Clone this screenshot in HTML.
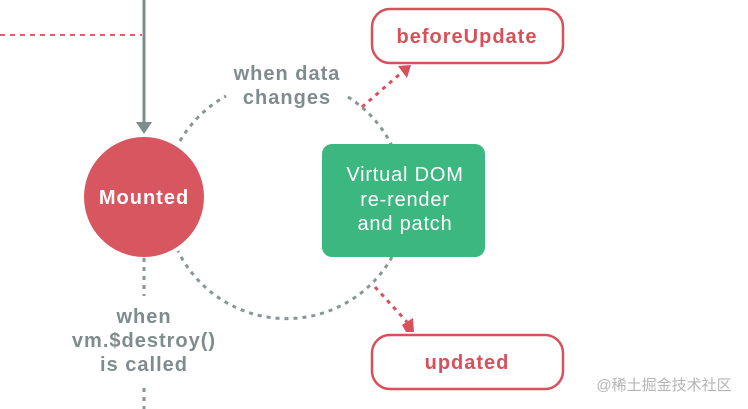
<!DOCTYPE html>
<html><head><meta charset="utf-8"><style>
html,body{margin:0;padding:0;background:#fff;}
svg{display:block;}
</style></head><body>
<svg width="748" height="409" viewBox="0 0 748 409" xmlns="http://www.w3.org/2000/svg">
<line x1="0" y1="35" x2="142" y2="35" stroke="#d9636b" stroke-width="2" stroke-dasharray="5,5"/>
<line x1="144" y1="0" x2="144" y2="124" stroke="#7c8c8f" stroke-width="3"/>
<polygon points="136,122 152,122 144,134" fill="#7c8c8f"/>
<g fill="none" stroke="#8a9597" stroke-width="3" stroke-dasharray="4,5">
<path d="M180,141 A121,121 0 0 1 226,96"/>
<path d="M348,97 A121,121 0 0 1 392,146"/>
<path d="M392,257 A121,121 0 0 1 178,251"/>
<line x1="144" y1="258" x2="144" y2="296"/>
<line x1="144" y1="388" x2="144" y2="409"/>
</g>
<circle cx="144" cy="197" r="60" fill="#d85660"/>
<text x="144" y="204" text-anchor="middle" font-family="Liberation Sans, sans-serif" font-weight="bold" font-size="20" letter-spacing="1" fill="#fff">Mounted</text>
<rect x="322" y="144" width="163" height="113" rx="10" fill="#3bb77f"/>
<g font-family="Liberation Sans, sans-serif" font-size="20" letter-spacing="0.8" fill="#fff" text-anchor="middle">
<text x="405" y="181">Virtual DOM</text>
<text x="405" y="206">re-render</text>
<text x="405" y="230">and patch</text>
</g>
<rect x="372" y="9" width="191" height="54" rx="18" fill="#fff" stroke="#d9505a" stroke-width="2.5"/>
<rect x="372" y="335" width="191" height="54" rx="18" fill="#fff" stroke="#d9505a" stroke-width="2.5"/>
<g font-family="Liberation Sans, sans-serif" font-weight="bold" font-size="20" letter-spacing="1" fill="#d9505a" text-anchor="middle">
<text x="467" y="43">beforeUpdate</text>
<text x="467" y="369">updated</text>
</g>
<g stroke="#d9505a" stroke-width="3" stroke-dasharray="4,5">
<line x1="362" y1="107" x2="400" y2="74"/>
<line x1="375" y1="287" x2="407" y2="322"/>
</g>
<polygon points="398,66 411,65 407,78" fill="#d9505a"/>
<polygon points="406,332 414,332 413,318 402,325" fill="#d9505a"/>
<g font-family="Liberation Sans, sans-serif" font-weight="bold" font-size="20" letter-spacing="1" fill="#7f8c8d" text-anchor="middle">
<text x="287" y="80">when data</text>
<text x="287" y="104">changes</text>
<text x="144" y="323">when</text>
<text x="144" y="347">vm.$destroy()</text>
<text x="144" y="371">is called</text>
</g>
<text x="664" y="390" text-anchor="middle" font-family="Liberation Sans, Noto Sans CJK SC, sans-serif" font-size="15" fill="#b4b4b4">@稀土掘金技术社区</text>
</svg>
</body></html>
